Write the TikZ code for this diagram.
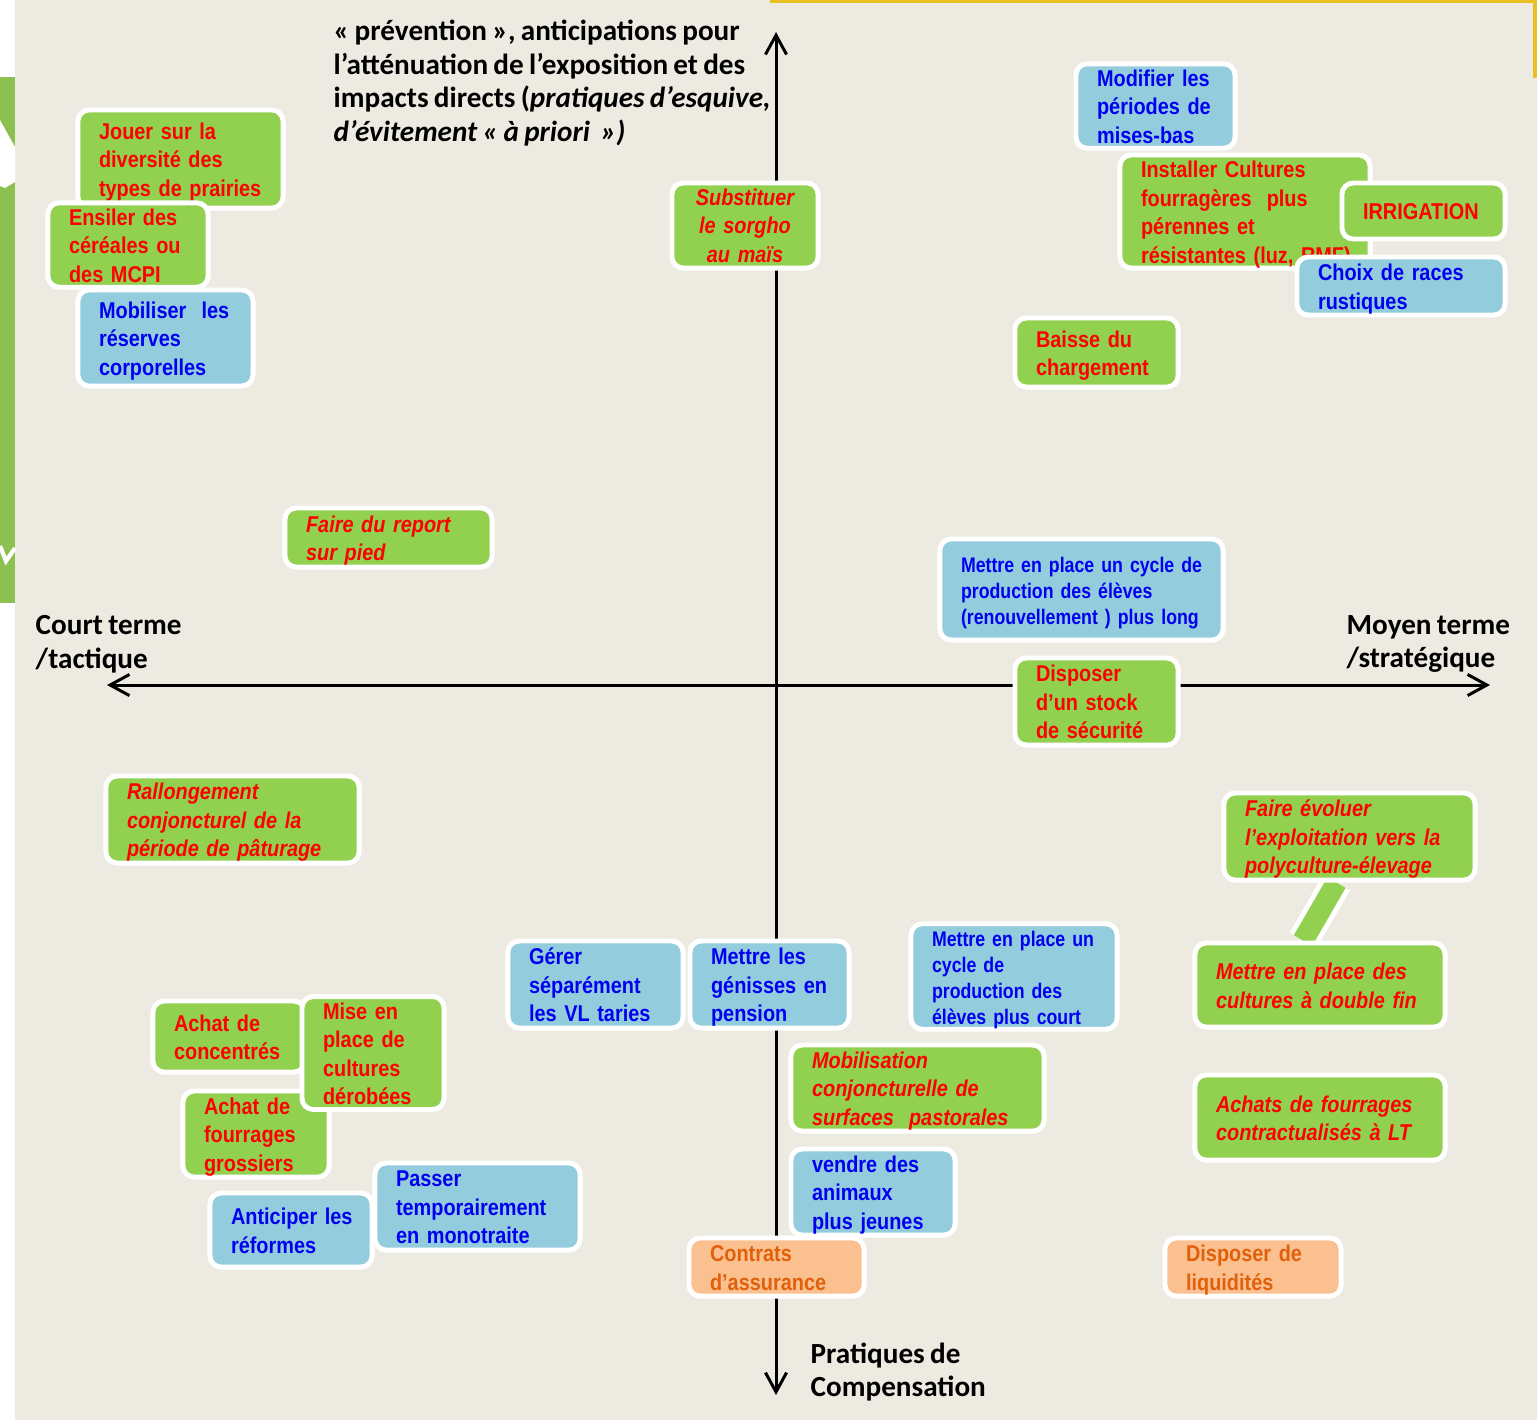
\documentclass[tikz,border=0pt]{standalone}
\usepackage{fontspec}
\usepackage{tikz}
\usetikzlibrary{arrows.meta,calc,backgrounds}

\newfontfamily\boxfont{Liberation Sans}[FakeStretch=0.87, WordSpace=0.65]
\newfontfamily\boxfontserre{Liberation Sans}[FakeStretch=0.84, WordSpace=0.65]
\newfontfamily\axefont{Carlito}[WordSpace=0.8]

\definecolor{fondbeige}{HTML}{EDEBE1}
\definecolor{vertbox}{HTML}{92D050}
\definecolor{vertbande}{HTML}{8CC152}
\definecolor{bleubox}{HTML}{93CDDD}
\definecolor{orangebox}{HTML}{FAC090}
\definecolor{bleutxt}{HTML}{0000F0}
\definecolor{orangetxt}{HTML}{E2600A}
\definecolor{jaune}{HTML}{E9C022}

\begin{document}
\begin{tikzpicture}[x=0.01cm, y=-0.01cm,
   boite/.style={draw=white, line width=1.4pt, rounded corners=3.2pt, inner sep=0pt},
   gauche/.style={align=left,
    execute at begin node={\leftskip=6pt\rightskip=-1cm plus 1fil\relax\rule{0pt}{6.4pt}},
    execute at end node={\rule[-1.4pt]{0pt}{1.4pt}}},
   fvert/.style={fill=vertbox, text=red},
   fbleu/.style={fill=bleubox, text=bleutxt},
   forange/.style={fill=orangebox, text=orangetxt},
   droit/.style={font=\boxfont\bfseries\fontsize{6.5}{8.1}\selectfont},
   penche/.style={font=\boxfont\bfseries\itshape\fontsize{6.5}{8.1}\selectfont},
   serre/.style={font=\boxfontserre\bfseries\fontsize{6}{7.4}\selectfont},
   vert/.style={boite, gauche, fvert, droit},
   vertit/.style={boite, gauche, fvert, penche},
   bleu/.style={boite, gauche, fbleu, droit},
   bleuserre/.style={boite, gauche, fbleu, serre},
   orange/.style={boite, gauche, forange, droit},
   titre/.style={font=\axefont\bfseries\fontsize{8.3}{9.6}\selectfont,
    align=left, inner sep=0pt},
   axe/.style={line width=0.85pt,
    {Straight Barb[length=5.5pt,width=6pt]}-{Straight Barb[length=5.5pt,width=6pt]}},
   bande/.style={draw=white, line width=1.4pt, double=vertbox, double distance=6pt}
    ]
  \useasboundingbox (0,0) rectangle (1537,1423);

  % -- fond
  \begin{pgfonlayer}{background}
    \fill[white] (0,0) rectangle (1537,1423);
    \fill[fondbeige] (15,0) rectangle (1537,1420);
    \fill[vertbande] (0,77) rectangle (15,603);
    \fill[white] (0,120) -- (15,147) -- (15,182) -- (5,188) -- (0,186) -- cycle;
    \draw[white, line width=1.2pt] (0,546) -- (6,561) -- (15,548);
    \fill[jaune] (770,0) rectangle (1537,2.5);
    \fill[jaune] (1533,0) rectangle (1537,78);
  \end{pgfonlayer}

  % -- axes
  \coordinate (nord) at (776,32);
  \coordinate (sud) at (776,1395);
  \coordinate (ouest) at (107,685);
  \coordinate (est) at (1490,685);
  \draw[axe] (sud) -- (nord);
  \draw[axe] (ouest) -- (est);

  % -- haut gauche
  \node[vert, text width=2.05cm, minimum height=0.98cm] at (180.5,159) (jouer)
    {Jouer sur la\\ diversité des\\ types de prairies};
  \node[vert, text width=1.60cm, minimum height=0.80cm] at (128,245) (ensiler)
    {Ensiler des\\ céréales ou\\ des MCPI};
  \node[bleu, text width=1.75cm, minimum height=0.96cm] at (165.5,338) (mobiliser)
    {Mobiliser~ les\\ réserves\\ corporelles};
  \node[boite, fvert, penche, align=center, text width=1.46cm,
    minimum height=0.85cm] at (745,225.5) (substituer)
    {Substituer\\ le sorgho\\ au maïs};
  \node[vertit, text width=2.07cm, minimum height=0.59cm] at (388.5,537.5) (report)
    {Faire du report\\ sur pied};

  % -- haut droite
  \node[bleu, text width=1.59cm, minimum height=0.84cm] at (1155.5,106) (modifier)
    {Modifier les\\ périodes de\\ mises-bas};
  \node[vert, text width=2.50cm, minimum height=1.13cm] at (1245,211.5) (installer)
    {Installer Cultures\\ fourragères~ plus\\ pérennes et\\ résistantes (luz, RMF)};
  \node[vert, text width=1.63cm, minimum height=0.56cm] at (1423.5,211) (irrigation)
    {IRRIGATION};
  \node[bleu, text width=2.08cm, minimum height=0.58cm] at (1401,286) (choix)
    {Choix de races\\ rustiques};
  \node[vert, text width=1.63cm, minimum height=0.69cm] at (1096.5,352.5) (baisse)
    {Baisse du\\ chargement};
  \node[bleuserre, text width=2.83cm, minimum height=1.01cm] at (1081.5,589.5) (cyclelong)
    {Mettre en place un cycle de\\ production des élèves\\ (renouvellement ) plus long};
  \node[vert, text width=1.63cm, minimum height=0.87cm] at (1096.5,701.5) (stock)
    {Disposer\\ d’un stock\\ de sécurité};

  % -- bas gauche
  \node[vertit, text width=2.53cm, minimum height=0.87cm] at (232.5,819.5) (rallongement)
    {Rallongement\\ conjoncturel de la\\ période de pâturage};
  \node[vert, text width=1.52cm, minimum height=0.71cm] at (229,1036.5) (concentres)
    {Achat de\\ concentrés};
  \node[vert, text width=1.46cm, minimum height=0.86cm] at (256,1134) (grossiers)
    {Achat de\\ fourrages\\ grossiers};
  \node[vert, text width=1.42cm, minimum height=1.08cm] at (373,1053) (derobees)
    {Mise en\\ place de\\ cultures\\ dérobées};
  \node[bleu, text width=1.62cm, minimum height=0.74cm] at (291,1230) (anticiper)
    {Anticiper les\\ réformes};
  \node[bleu, text width=2.05cm, minimum height=0.87cm] at (477.5,1206.5) (monotraite)
    {Passer\\ temporairement\\ en monotraite};
  \node[bleu, text width=1.75cm, minimum height=0.87cm] at (595.5,984.5) (gerer)
    {Gérer\\ séparément\\ les VL taries};

  % -- bas droite
  \node[bleu, text width=1.59cm, minimum height=0.87cm] at (769.5,984.5) (genisses)
    {Mettre les\\ génisses en\\ pension};
  \node[bleuserre, text width=2.06cm, minimum height=1.03cm] at (1014,976.5) (cyclecourt)
    {Mettre en place un\\ cycle de\\ production des\\ élèves plus court};
  \node[vertit, text width=2.53cm, minimum height=0.86cm] at (917.5,1088) (mobilisation)
    {Mobilisation\\ conjoncturelle de\\ surfaces~ pastorales};
  \node[bleu, text width=1.64cm, minimum height=0.86cm] at (873,1192) (vendre)
    {vendre des\\ animaux\\ plus jeunes};
  \node[orange, text width=1.75cm, minimum height=0.58cm] at (776.5,1267) (assurance)
    {Contrats\\ d’assurance};
  \node[vertit, text width=2.51cm, minimum height=0.87cm] at (1349.5,836.5) (evoluer)
    {Faire évoluer\\ l’exploitation vers la\\ polyculture-élevage};
  \node[vertit, text width=2.50cm, minimum height=0.84cm] at (1320,985) (doublefin)
    {Mettre en place des\\ cultures à double fin};
  \node[vertit, text width=2.50cm, minimum height=0.85cm] at (1320,1117.5) (achatslt)
    {Achats de fourrages\\ contractualisés à LT};
  \node[orange, text width=1.76cm, minimum height=0.58cm] at (1253,1267) (liquidites)
    {Disposer de\\ liquidités};

  % -- lien
  \begin{pgfonlayer}{background}
    \draw[bande] ($(evoluer.south)+(-13,0)$) -- ($(doublefin.north)+(-17,0)$);
  \end{pgfonlayer}

  % -- legendes des axes
  \node[titre, anchor=west] at (333,83) (prevention)
    {« prévention », anticipations pour\\ l’atténuation de l’exposition et des\\
     impacts directs (\textit{pratiques d’esquive,}\\ \textit{d’évitement « à priori~ »)}};
  \node[titre, anchor=west] at (35,644) (court) {Court terme\\ /tactique};
  \node[titre, anchor=west] at (1346,644) (moyen) {Moyen terme\\ /stratégique};
  \node[titre, anchor=west] at (810,1372) (pratiques) {Pratiques de\\ Compensation};
\end{tikzpicture}
\end{document}
